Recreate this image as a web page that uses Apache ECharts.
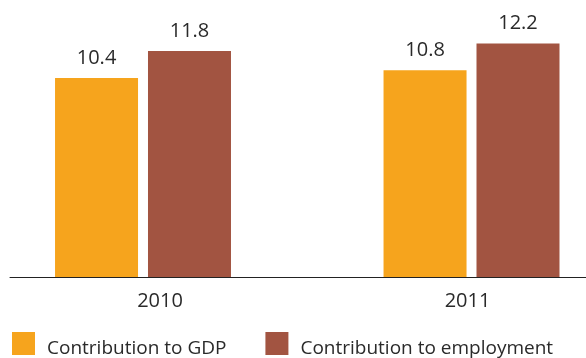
<!DOCTYPE html>
<html><head><meta charset="utf-8">
<script src="https://cdn.jsdelivr.net/npm/echarts@6/dist/echarts.min.js"></script>
<style>html,body{margin:0;padding:0;background:#fff}#c{width:586px;height:358px}</style>
</head><body><div id="c"></div>
<script>
const categories = ['2010', '2011'];
const gdp = [10.4, 10.8];
const employment = [11.8, 12.2];
const seriesNames = ['Contribution to GDP', 'Contribution to employment'];

const font = 'Open Sans';
const textColor = '#2a2a2a';
const catIdx = categories.map((c, i) => i);
const chart = echarts.init(document.getElementById('c'));
chart.setOption({
  animation: false,
  grid: {left: 10, right: 0, top: 9, bottom: 81},
  xAxis: {
    type: 'value', min: -0.4049, max: 1.3485,
    splitLine: {show: false},
    axisLine: {show: true, onZero: false, lineStyle: {color: '#222', width: 1}},
    axisTick: {show: false},
    axisLabel: {
      customValues: catIdx,
      formatter: v => { const i = Math.round(v); return '{c' + i + '|' + categories[i] + '}'; },
      fontFamily: font, fontSize: 20, color: textColor, margin: 14,
      rich: {
        c0: {fontFamily: font, fontSize: 20, color: textColor, padding: [0, 0, 0, 34]},
        c1: {fontFamily: font, fontSize: 20, color: textColor, padding: [0, 8, 0, 0]}
      }
    }
  },
  yAxis: {type: 'value', min: 0, max: 14, show: false},
  legend: {
    left: 12, top: 328.5, padding: 0, itemWidth: 23, itemHeight: 23, itemGap: 39,
    icon: 'rect',
    formatter: name => '{s| }{t|' + name + '}',
    textStyle: {
      fontFamily: font, fontSize: 19, color: textColor,
      rich: {
        s: {width: 7, height: 30, lineHeight: 30, fontSize: 19, verticalAlign: 'top'},
        t: {fontFamily: font, fontSize: 19, lineHeight: 19, color: textColor, verticalAlign: 'bottom'}
      }
    },
    data: seriesNames
  },
  series: [
    {name: seriesNames[0], type: 'bar', data: gdp.map((v, i) => [catIdx[i], v]), barWidth: 83, barGap: '12%',
     itemStyle: {color: '#F6A41D'},
     label: {show: true, position: 'top', distance: 10, fontFamily: font, fontSize: 20, color: textColor,
             formatter: p => p.value[1].toFixed(1)}},
    {name: seriesNames[1], type: 'bar', data: employment.map((v, i) => [catIdx[i], v]), barWidth: 83, barGap: '12%',
     itemStyle: {color: '#A25441'},
     label: {show: true, position: 'top', distance: 10, fontFamily: font, fontSize: 20, color: textColor,
             formatter: p => p.value[1].toFixed(1)}}
  ]
});
</script></body></html>
